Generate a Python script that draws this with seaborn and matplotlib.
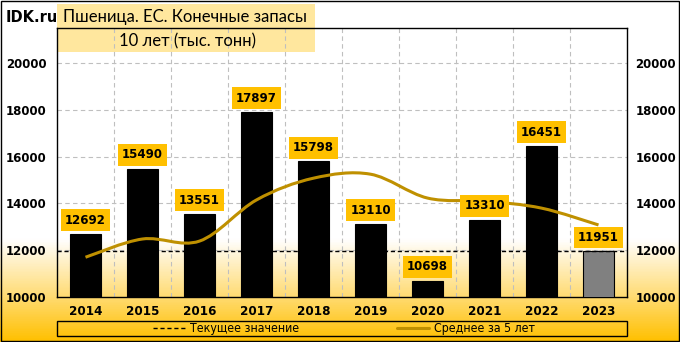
import numpy as np
import pandas as pd
import matplotlib
matplotlib.use("Agg")
import matplotlib.pyplot as plt
import seaborn as sns
from matplotlib import font_manager as fm
from matplotlib.path import Path
from matplotlib.patches import PathPatch, Rectangle
from matplotlib.lines import Line2D
from matplotlib.colors import LinearSegmentedColormap

years = ["2014", "2015", "2016", "2017", "2018", "2019", "2020", "2021", "2022", "2023"]
stocks = [12692, 15490, 13551, 17897, 15798, 13110, 10698, 13310, 16451, 11951]
avg5 = [11700, 12480, 12390, 14150, 15080, 15250, 14230, 14100, 13800, 13080]
current_value = 11951
yticks = [10000, 12000, 14000, 16000, 18000, 20000]

sns.set_theme(style="white")
plt.rcParams['font.family'] = ['DejaVu Sans']
plt.rcParams['text.color'] = 'black'
plt.rcParams['xtick.color'] = 'black'
plt.rcParams['ytick.color'] = 'black'
plt.rcParams['xtick.labelcolor'] = 'black'
plt.rcParams['ytick.labelcolor'] = 'black'


def find_font(cands):
    files = {f.fname.split('/')[-1]: f.fname for f in fm.fontManager.ttflist}
    for c in cands:
        if c in files:
            return files[c]
    return None


bold_path = find_font(["DejaVuSansCondensed-Bold.ttf", "LiberationSansNarrow-Bold.ttf",
                       "PTSansNarrow-Bold.ttf", "RobotoCondensed-Bold.ttf",
                       "NotoSans-CondensedBold.ttf"])
reg_path = find_font(["DejaVuSansCondensed.ttf", "LiberationSansNarrow-Regular.ttf",
                      "PTSansNarrow-Regular.ttf", "RobotoCondensed-Regular.ttf",
                      "NotoSans-Condensed.ttf"])
if bold_path:
    fp_bold = fm.FontProperties(fname=bold_path, size=9.5)
else:
    fp_bold = fm.FontProperties(family="DejaVu Sans", weight="bold", size=8)
if reg_path:
    fp_leg = fm.FontProperties(fname=reg_path, size=8.8)
else:
    fp_leg = fm.FontProperties(family="DejaVu Sans", size=7.8)

W, H = 680, 342
fig = plt.figure(figsize=(6.8, 3.42), dpi=100)

# figure background gradient (white top -> gold bottom)
bg = fig.add_axes([0, 0, 1, 1], zorder=-10)
grad = np.linspace(0, 1, 400).reshape(-1, 1)
fig_cmap = LinearSegmentedColormap.from_list(
    "figbg", [(0, "#FFC000"), (0.14, "#FFDD7A"), (0.30, "#FFFFFF"), (1, "#FFFFFF")])
bg.imshow(grad, aspect="auto", cmap=fig_cmap, origin="lower", extent=[0, 1, 0, 1])
bg.set_xlim(0, 1); bg.set_ylim(0, 1)
bg.axis("off")
bg.add_patch(Rectangle((0.0008, 0.0015), 0.9984, 0.997, fill=False, edgecolor="black", lw=1,
                       transform=bg.transAxes))

# title box (under the plot axes so the grid shows through)
fig.patches.append(Rectangle((57/W, 1-52/H), 258/W, 48/H, transform=fig.transFigure,
                             fc="#FFE699", ec="none", zorder=-5, alpha=0.95))

ax = fig.add_axes([57/W, 1-297/H, 570/W, 269/H], zorder=1)
ax.set_facecolor("none")
ymin, ymax = 10000, 21500

df = pd.DataFrame({"year": years, "stocks": stocks})
colors = ["black"] * (len(years) - 1) + ["#808080"]
sns.barplot(data=df, x="year", y="stocks", hue="year", palette=colors, legend=False,
            width=0.53, edgecolor="black", linewidth=0.8, ax=ax, zorder=3)

ax.set_xlim(-0.5, 9.5)
ax.set_ylim(ymin, ymax)

# grid
for yv in yticks[1:]:
    ax.axhline(yv, color="#BFBFBF", ls=(0, (4, 3)), lw=0.8, zorder=1)
for xv in np.arange(0.5, 9.5, 1):
    ax.axvline(xv, color="#BFBFBF", ls=(0, (4, 3)), lw=0.8, zorder=1)

# current value line
ax.axhline(current_value, color="black", ls=(0, (3, 2)), lw=1, zorder=4)

# smooth 5-yr average line (bezier through the read points)
xs = np.arange(len(avg5), dtype=float)
ys = np.array(avg5, dtype=float)
pts = np.column_stack([xs, ys])
verts = [tuple(pts[0])]
codes = [Path.MOVETO]
n = len(pts)
for i in range(n - 1):
    p0 = pts[i - 1] if i > 0 else pts[i]
    p1 = pts[i]
    p2 = pts[i + 1]
    p3 = pts[i + 2] if i + 2 < n else pts[i + 1]
    c1 = p1 + (p2 - p0) / 6
    c2 = p2 - (p3 - p1) / 6
    verts += [tuple(c1), tuple(c2), tuple(p2)]
    codes += [Path.CURVE4] * 3
ax.add_patch(PathPatch(Path(verts, codes), fill=False, edgecolor="#BF9000", lw=2.2, zorder=5,
                       capstyle="butt"))

# value labels
for i, v in enumerate(stocks):
    ax.annotate(f"{v}", (i, v), xytext=(0, 5.3), textcoords="offset points", ha="center",
                va="bottom", fontsize=8.5, fontweight="bold", color="black", zorder=6,
                bbox=dict(boxstyle="square,pad=0.38", fc="#FFC000", ec="none"))

ax.set_yticks(yticks)
ax.set_yticklabels([str(t) for t in yticks], fontsize=8.5, fontweight="bold", color="black")
ax.tick_params(axis="y", length=0, pad=7.5)
ax.set_xticks(range(len(years)))
ax.set_xticklabels(years, color="black")
for t in ax.get_xticklabels():
    t.set_fontproperties(fp_bold)
ax.tick_params(axis="x", length=0, pad=5.5)
ax.set_xlabel(""); ax.set_ylabel("")
for s in ax.spines.values():
    s.set_visible(True); s.set_color("black"); s.set_linewidth(1)

ax2 = ax.twinx()
ax2.set_ylim(ymin, ymax)
ax2.set_yticks(yticks)
ax2.set_yticklabels([str(t) for t in yticks], fontsize=8.5, fontweight="bold", color="black")
ax2.tick_params(axis="y", length=0, pad=6)
for s in ax2.spines.values():
    s.set_visible(False)

# titles
fig.text(185/W, 1-17/H, "Пшеница. ЕС. Конечные запасы", ha="center", va="center", fontsize=12,
         family=['Lato', 'DejaVu Sans'], color="black", zorder=6)
fig.text(187/W, 1-41/H, "10 лет (тыс. тонн)", ha="center", va="center", fontsize=12,
         family=['Lato', 'DejaVu Sans'], color="black", zorder=6)
fig.text(6/W, 1-17/H, "IDK.ru", ha="left", va="center", fontsize=10.5, fontweight="bold",
         color="black", zorder=6)

# legend
fig.patches.append(Rectangle((57/W, 1-336/H), 570/W, 15/H, transform=fig.transFigure,
                             fill=False, ec="black", lw=1, zorder=5))
handles = [Line2D([], [], color="black", ls=(0, (3, 2)), lw=1),
           Line2D([], [], color="#BF9000", lw=2.2)]
leg = fig.legend(handles, ["Текущее значение", "Среднее за 5 лет"], ncol=2,
                 loc="center", bbox_to_anchor=(344/W, 1-328.5/H), frameon=False,
                 prop=fp_leg, handlelength=2.6, labelcolor="black",
                 borderpad=0.0, handletextpad=0.45, columnspacing=8.0)

fig.savefig("out.png", dpi=100)
